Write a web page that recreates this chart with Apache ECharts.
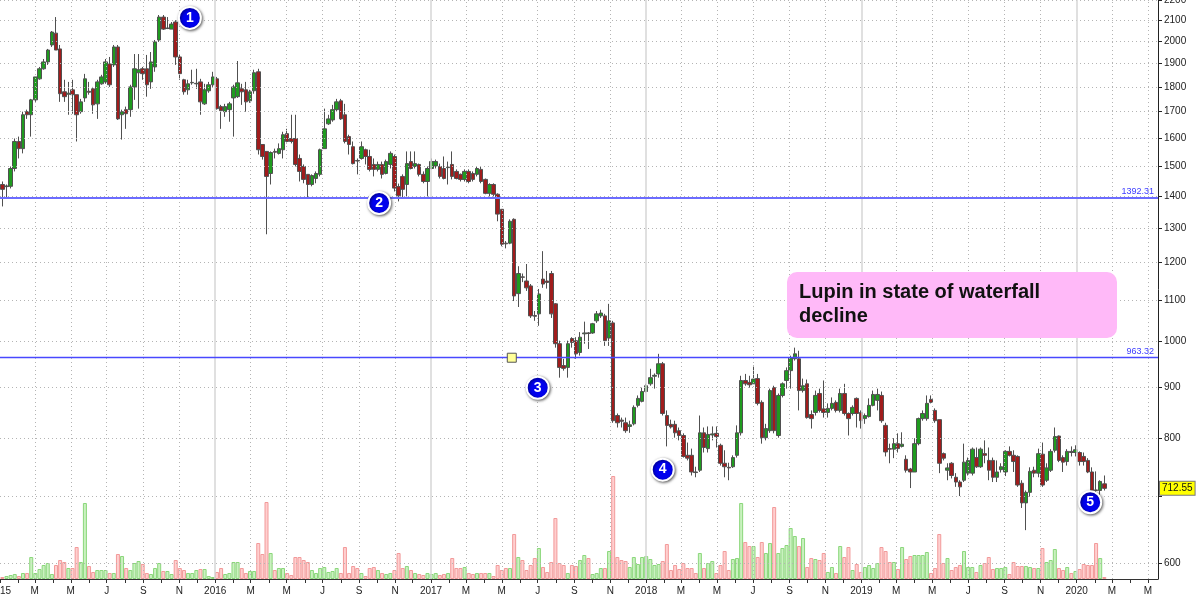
<!DOCTYPE html>
<html><head><meta charset="utf-8">
<script src="https://cdn.jsdelivr.net/npm/echarts@6/dist/echarts.min.js"></script>
<style>html,body{margin:0;padding:0;background:#fff}#c{width:1200px;height:601px}</style>
</head><body><div id="c"></div>
<script>
// ---- weekly bars, first bar = week of 2015-01-05; each item [open, close, low, high]
const firstWeek = '2015-01-05';
const ohlc2015 = [[1437,1421,1366,1447],[1430,1432,1392,1437],[1431,1491,1424,1498],[1491,1587,1481,1598],[1587,1561,1526,1605],[1561,1688,1544,1700],[1700,1688,1672,1708],[1688,1747,1605,1751],[1747,1842,1739,1842],[1834,1877,1830,1885],
[1877,1907,1873,1920],[1907,1960,1894,1965],[1983,2043,1974,2048],[2038,1960,1960,2115],[1965,1772,1739,1983],[1780,1760,1739,1830],[1770,1774,1688,1821],[1788,1768,1692,1830],[1768,1688,1587,1768],[1700,1739,1692,1751],
[1755,1834,1739,1855],[1782,1778,1768,1821],[1792,1727,1692,1800],[1731,1821,1672,1830],[1813,1842,1809,1851],[1821,1907,1813,1920],[1898,1809,1800,1929],[1894,1974,1885,1983],[1974,1672,1668,1983],[1688,1700,1594,1708],
[1708,1692,1634,1720],[1708,1800,1680,1809],[1800,1877,1747,1942],[1860,1873,1712,1942],[1877,1856,1830,1885],[1877,1809,1760,1938],[1821,1907,1792,1951],[1885,1997,1864,2006],[2006,2115,1997,2125],[2115,2057,2053,2125],
[2060,2062,2057,2115],[2057,2081,2057,2091],[2091,1929,1894,2100],[1929,1856,1830,1938],[1830,1780,1768,1834],[1788,1813,1768,1830],[1817,1819,1809,1873],[1813,1815,1792,1877],[1821,1739,1688,1834],[1731,1788,1727,1813],
[1784,1809,1776,1821],[1809,1842,1800,1864]];
const ohlc2016 = [[1834,1712,1708,1842],[1720,1704,1634,1727],[1700,1720,1680,1731],[1708,1731,1661,1739],[1755,1800,1605,1809],[1760,1817,1755,1911],[1792,1780,1727,1813],[1788,1739,1700,1821],[1743,1780,1735,1788],[1784,1860,1772,1873],
[1864,1557,1540,1877],[1576,1533,1522,1576],[1551,1464,1281,1551],[1474,1547,1437,1551],[1551,1548,1526,1561],[1544,1561,1540,1580],[1557,1612,1526,1623],[1616,1587,1580,1634],[1598,1587,1580,1688],[1598,1505,1498,1688],
[1526,1481,1447,1540],[1498,1454,1441,1505],[1471,1437,1392,1471],[1437,1467,1431,1471],[1457,1474,1441,1481],[1471,1557,1464,1561],[1561,1634,1561,1712],[1653,1672,1649,1688],[1668,1708,1661,1727],[1708,1739,1700,1751],
[1743,1672,1668,1751],[1688,1587,1580,1731],[1605,1576,1540,1612],[1568,1508,1505,1587],[1519,1517,1471,1526],[1526,1568,1522,1587],[1557,1533,1505,1561],[1533,1488,1481,1557],[1505,1488,1464,1526],[1488,1505,1481,1515],
[1505,1471,1457,1515],[1474,1515,1471,1522],[1505,1544,1491,1551],[1533,1425,1414,1540],[1430,1400,1382,1440],[1464,1421,1392,1471],[1437,1508,1398,1551],[1515,1491,1488,1551],[1498,1508,1491,1551],[1505,1471,1464,1508],
[1471,1447,1441,1481],[1447,1491,1398,1498]];
const ohlc2017 = [[1491,1515,1488,1526],[1500,1515,1491,1522],[1498,1464,1457,1508],[1491,1457,1454,1533],[1494,1496,1437,1515],[1505,1464,1454,1551],[1481,1457,1454,1488],[1471,1454,1447,1474],[1454,1481,1447,1488],[1481,1447,1441,1488],
[1474,1454,1447,1481],[1471,1491,1464,1498],[1488,1447,1441,1498],[1454,1408,1405,1457],[1408,1437,1398,1441],[1437,1405,1398,1441],[1405,1342,1320,1408],[1357,1252,1246,1357],[1255,1253,1240,1261],[1255,1320,1252,1326],
[1326,1111,1098,1329],[1117,1170,1083,1190],[1161,1160,1147,1170],[1150,1132,1124,1196],[1137,1061,1056,1142],[1062,1060,1049,1073],[1066,1116,1037,1129],[1155,1142,1132,1232],[1150,1146,1130,1177],[1170,1066,1056,1177],
[1091,995,986,1093],[995,942,920,1002],[946,940,935,961],[942,995,920,1002],[1007,998,986,1010],[1002,972,961,1010],[975,1010,968,1022],[1018,1020,995,1047],[1020,1019,983,1022],[1020,1042,1018,1044],
[1049,1066,1044,1073],[1061,1068,1056,1076],[1061,1002,990,1066],[1008,1049,990,1091],[1044,833,829,1049],[843,829,820,847],[834,832,820,839],[829,814,810,839],[822,825,810,833],[827,859,824,863],
[863,877,859,883],[871,891,869,899]];
const ohlc2018 = [[891,903,889,907],[907,920,903,939],[923,925,897,929],[928,950,920,972],[950,847,843,954],[843,824,785,853],[826,821,818,835],[826,810,801,833],[814,805,796,820],[805,767,765,809],
[769,764,760,792],[769,740,734,781],[740,739,731,749],[743,810,740,843],[810,783,774,820],[781,807,774,822],[806,808,796,822],[809,803,783,822],[787,755,751,790],[755,749,731,778],
[748,747,726,756],[749,765,747,769],[769,810,765,824],[810,914,805,924],[914,907,903,928],[910,905,899,924],[907,917,907,946],[918,867,863,928],[869,801,790,873],[801,818,796,827],
[814,893,810,897],[899,814,809,903],[805,883,801,887],[883,907,879,910],[914,935,897,942],[935,963,897,968],[961,972,957,986],[961,893,853,979],[893,903,889,918],[907,839,837,916],
[845,837,818,853],[849,883,843,893],[887,853,849,897],[856,849,839,914],[849,857,839,867],[857,867,853,879],[869,853,849,873],[853,887,849,897],[887,847,843,907],[847,837,805,849],
[847,859,843,863],[877,847,820,879]];
const ohlc2019 = [[849,833,818,853],[837,843,827,847],[841,863,839,877],[863,885,861,893],[873,885,853,897],[883,833,829,891],[824,775,767,829],[781,780,755,790],[780,790,764,800],[790,781,774,809],
[785,789,783,811],[762,743,739,769],[745,740,713,747],[740,790,740,800],[790,837,787,839],[837,847,833,853],[837,867,833,883],[875,869,867,883],[853,833,829,857],[835,755,738,835],
[772,764,760,774],[743,747,726,755],[755,734,729,757],[731,723,715,738],[723,715,700,726],[726,757,723,790],[738,760,734,765],[738,780,734,783],[765,749,747,783],[749,780,747,783],
[772,769,755,796],[760,743,726,783],[760,731,723,765],[731,740,723,760],[744,749,739,755],[740,776,733,778],[776,769,767,785],[769,758,740,778],[767,718,715,769],[721,689,681,726],
[689,706,647,709],[706,741,699,748],[743,738,731,749],[738,772,731,781],[771,718,715,792],[726,747,723,755],[743,776,740,780],[778,803,774,820],[804,760,757,805],[765,757,740,769],
[758,776,751,780],[776,774,767,785]];
const ohlc2020 = [[774,779,767,787],[774,758,751,776],[767,758,751,774],[760,740,738,764],[740,709,706,748],[710,709,698,741],[709,724,701,726],[720,712.55,709,734]];

// ---- weekly volume (relative units)
const vol2015 = [2,3,4,5,3,6,6,22,6,10,14,16,5,14,19,17,11,11,32,17,76,13,7,9,9,9,6,6,25,23,11,9,16,18,15,6,5,11,16,8,8,5,19,11,9,6,6,9,10,10,3,2];
const vol2016 = [7,11,5,6,17,17,11,6,8,8,36,25,77,26,9,11,11,6,4,22,22,19,17,9,6,11,12,7,8,11,6,32,6,13,11,6,3,11,12,9,6,5,6,9,26,11,13,9,6,5,4,6];
const vol2017 = [5,6,4,5,6,21,11,11,12,6,5,6,6,6,6,3,14,9,11,11,45,22,19,9,14,21,31,12,7,17,61,16,14,6,14,13,19,24,21,5,6,11,11,28,103,22,19,18,12,22,15,22];
const vol2018 = [23,20,14,15,18,35,9,14,10,16,11,11,6,26,11,16,18,6,14,28,9,20,21,76,37,33,33,22,37,26,36,72,26,31,34,51,43,33,41,12,21,20,19,26,7,12,6,33,22,32,9,15];
const vol2019 = [7,12,14,11,16,32,28,17,17,10,32,20,23,24,24,24,27,6,11,45,16,21,9,12,14,28,12,12,7,14,16,22,10,11,11,12,5,17,13,13,13,12,11,11,31,17,19,30,11,9,12,6];
const vol2020 = [8,10,15,14,14,36,21,2];

// ---- axes / annotations
const axisStart = '2015-01-01', axisEnd = '2020-05-18';
const priceMin = 578, priceMax = 2200;
const priceTicks = [600,700,800,900,1000,1100,1200,1300,1400,1500,1600,1700,1800,1900,2000,2100,2200];
const priceLabels = [600,800,900,1000,1100,1200,1300,1400,1500,1600,1700,1800,1900,2000,2100,2200];
const monthLetters = ['J','F','M','A','M','J','J','A','S','O','N','D'];
const levelHigh = 1392.31, levelLow = 963.32, lastPrice = 712.55;
const callouts = [['2015-11-19',2111,'1'],['2016-10-05',1377,'2'],['2017-07-01',899,'3'],['2018-01-29',744,'4'],['2020-01-24',690,'5']];
const anchorPoint = ['2017-05-18', 963.32];
const noteText = 'Lupin in state of waterfall\ndecline';

// ---- build
const ts = s => { const [y,m,d] = s.split('-').map(Number); return new Date(y, m-1, d).getTime(); };
const ohlc = [].concat(ohlc2015, ohlc2016, ohlc2017, ohlc2018, ohlc2019, ohlc2020);
const vols = [].concat(vol2015, vol2016, vol2017, vol2018, vol2019, vol2020);
const fw = firstWeek.split('-').map(Number);
const weeks = ohlc.map((_, i) => new Date(fw[0], fw[1]-1, fw[2] + 7*i).getTime());
const xMin = ts(axisStart), xMax = ts(axisEnd);
const months = [], oddMonths = [], dottedMonths = [], years = [];
for (let y = 2015; y <= 2020; y++) for (let m = 0; m < 12; m++) {
  const t = new Date(y, m, 1).getTime();
  if (t < xMin || t > xMax) continue;
  months.push(t);
  if (m % 2 === 0) oddMonths.push(t);
  if (m % 2 === 0 && m !== 0) dottedMonths.push(t);
  if (m === 0 && y > 2015) years.push(t);
}
const FONT = '"Liberation Sans", Arial, sans-serif';
const dotted = {type:[1,3], color:'#b4b4b4', width:1};
const dateLabel = v => { const d = new Date(v); return d.getMonth() === 0 ? String(d.getFullYear()) : monthLetters[d.getMonth()]; };

const gridMarks = []
  .concat(priceTicks.map(v => ({yAxis: v, lineStyle: dotted})))
  .concat(dottedMonths.map(t => ({xAxis: t, lineStyle: dotted})))
  .concat(years.map(t => ({xAxis: t, lineStyle: {type:'solid', color:'#d6d6d6', width:1.5}})));

const levelLabel = {show:true, position:'insideEndTop', color:'#3d3dff', fontSize:9, distance:[4,2]};

const option = {
  animation: false,
  backgroundColor: '#ffffff',
  textStyle: {fontFamily: FONT},
  grid: {left: 0, right: 42, top: 0, bottom: 22, containLabel: false, outerBoundsMode: 'none'},
  xAxis: [
    {type:'value', min:xMin, max:xMax, position:'bottom', scale:true,
     axisLine:{show:true, onZero:false, lineStyle:{color:'#333', width:1}},
     axisTick:{show:true, length:4, lineStyle:{color:'#333'}, customValues: months},
     axisLabel:{customValues: oddMonths, color:'#222', fontSize:10, margin:7, fontFamily:FONT, formatter: dateLabel, hideOverlap:false},
     splitLine:{show:false}}
  ],
  yAxis: [
    {type:'log', logBase:10, min:priceMin, max:priceMax, position:'right',
     axisLine:{show:true, lineStyle:{color:'#222', width:1}},
     axisTick:{show:true, inside:false, length:4, lineStyle:{color:'#222'}, customValues: priceTicks},
     axisLabel:{customValues: priceLabels, color:'#222', fontSize:10, margin:6, fontFamily:FONT, formatter: v => String(Math.round(v))},
     splitLine:{show:false}},
    {type:'value', min:0, max:579, show:false, splitLine:{show:false}}
  ],
  graphic: [
    {type:'rect', left:787, top:272, z:50, shape:{width:330, height:66, r:10}, style:{fill:'#ffb9f8'}},
    {type:'text', left:799, top:280, z:51, style:{text: noteText, font:'bold 20px ' + FONT, fill:'#111', lineHeight:24}}
  ],
  series: [
    {type:'line', name:'grid', xAxisIndex:0, yAxisIndex:0, z:0, silent:true, data:[], showSymbol:false,
     markLine:{symbol:'none', silent:true, animation:false, label:{show:false}, data: gridMarks}},
    {type:'bar', name:'Volume', xAxisIndex:0, yAxisIndex:1, barWidth:4, z:1, silent:true,
     data: vols.map((v, i) => {
       const up = ohlc[i][1] >= ohlc[i][0];
       return {value:[weeks[i], v], itemStyle: up
         ? {color:'rgba(150,228,130,0.5)', borderColor:'#8bd77b', borderWidth:1}
         : {color:'rgba(255,160,160,0.5)', borderColor:'#f29a9a', borderWidth:1}};
     })},
    {type:'candlestick', name:'LUPIN', xAxisIndex:0, yAxisIndex:0, z:3, barWidth:4,
     data: ohlc.map((p, i) => [weeks[i], p[0], p[1], p[2], p[3]]),
     itemStyle:{color:'#1f9b1f', color0:'#a01c1c', borderColor:'#505050', borderColor0:'#505050', borderWidth:1},
     markPoint:{animation:false, data: callouts.map(c => ({
         coord:[ts(c[0]), c[1]], value:c[2], symbol:'circle', symbolSize:22,
         itemStyle:{color:'#0000ee', borderColor:'#ffffff', borderWidth:2, shadowBlur:3, shadowColor:'rgba(0,0,0,0.55)', shadowOffsetX:1, shadowOffsetY:1},
         label:{show:true, formatter:'{c}', color:'#fff', fontWeight:'bold', fontSize:14, fontFamily:FONT}
       }))}
    },
    {type:'line', name:'levelHigh', xAxisIndex:0, yAxisIndex:0, z:4, silent:true, data:[], showSymbol:false,
     markLine:{symbol:'none', silent:true, animation:false,
       lineStyle:{color:'#6c6cff', width:2, type:'solid'},
       label: Object.assign({formatter:String(levelHigh)}, levelLabel),
       data:[{yAxis: levelHigh}]}},
    {type:'line', name:'levelLow', xAxisIndex:0, yAxisIndex:0, z:4, silent:true, data:[], showSymbol:false,
     markLine:{symbol:'none', silent:true, animation:false,
       lineStyle:{color:'#4848ff', width:1.3, type:'solid', opacity:1},
       label: Object.assign({formatter:String(levelLow)}, levelLabel),
       data:[{yAxis: levelLow, lineStyle:{color:'#4848ff', width:1.3}}]},
     markPoint:{animation:false, data:[{
         coord:[ts(anchorPoint[0]), anchorPoint[1]], symbol:'rect', symbolSize:9,
         itemStyle:{color:'#ffff99', borderColor:'#555', borderWidth:1}, label:{show:false}}]}},
    {type:'line', name:'last', xAxisIndex:0, yAxisIndex:0, z:4, silent:true, data:[], showSymbol:false,
     markLine:{symbol:'none', silent:true, animation:false,
       lineStyle:{color:'rgba(0,0,0,0)', width:1},
       label:{show:true, position:'end', formatter:String(lastPrice), color:'#111', fontSize:10,
          backgroundColor:'#ffff00', borderColor:'#777', borderWidth:1, padding:[2,2,1,2], distance:2},
       data:[{yAxis: lastPrice}]}}
  ]
};
const chart = echarts.init(document.getElementById('c'), null, {renderer:'canvas'});
chart.setOption(option);
</script></body></html>
